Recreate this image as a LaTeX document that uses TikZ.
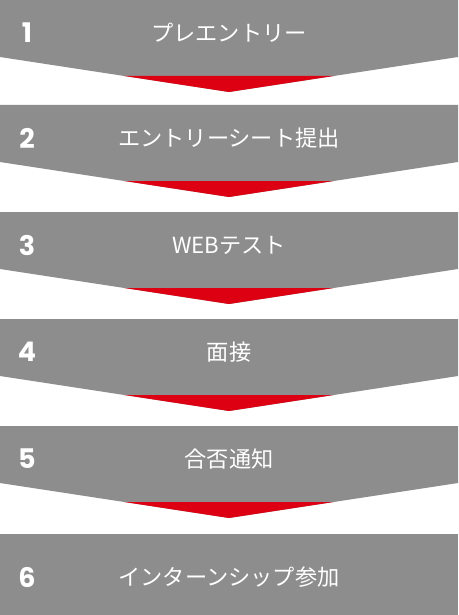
\documentclass[tikz,border=0pt]{standalone}
\usepackage{fontspec}
\setmainfont{Noto Sans CJK JP}
\newfontfamily\numfont{Poppins}[BoldFont={* Bold}]
\definecolor{bannergray}{RGB}{141,141,141}
\definecolor{arrowred}{RGB}{221,0,18}
\tikzset{
  banner/.style={fill=bannergray, draw=none},
  tipred/.style={fill=arrowred, draw=none},
  steplabel/.style={text=white, font=\fontsize{22.2}{26}\selectfont, inner sep=0pt, anchor=center},
  stepnum/.style={text=white, font=\numfont\bfseries\fontsize{27}{30}\selectfont, inner sep=0pt, anchor=center}
}
\begin{document}
\begin{tikzpicture}[x=1pt,y=-1pt]
\useasboundingbox (0,0) rectangle (458,615);
\fill[white] (0,0) rectangle (458,615);
\foreach \T/\n/\txt in {0/1/プレエントリー, 105/2/エントリーシート提出, 212/3/WEBテスト, 319/4/面接, 426/5/合否通知}{
  \fill[banner] (0,\T) -- (458,\T) -- (458,\T+57) -- (229,\T+92) -- (0,\T+57) -- cycle;
  \fill[tipred] (124.3,\T+76) -- (333.7,\T+76) -- (229,\T+92) -- cycle;
  \node[stepnum] (num\n) at (27,\T+33) {\n};
  \node[steplabel] (lab\n) at (229,\T+33) {\txt};
}
\fill[banner] (0,534) rectangle (458,615);
\node[stepnum] (num6) at (27,577) {6};
\node[steplabel] (lab6) at (229,577) {インターンシップ参加};
\end{tikzpicture}
\end{document}
